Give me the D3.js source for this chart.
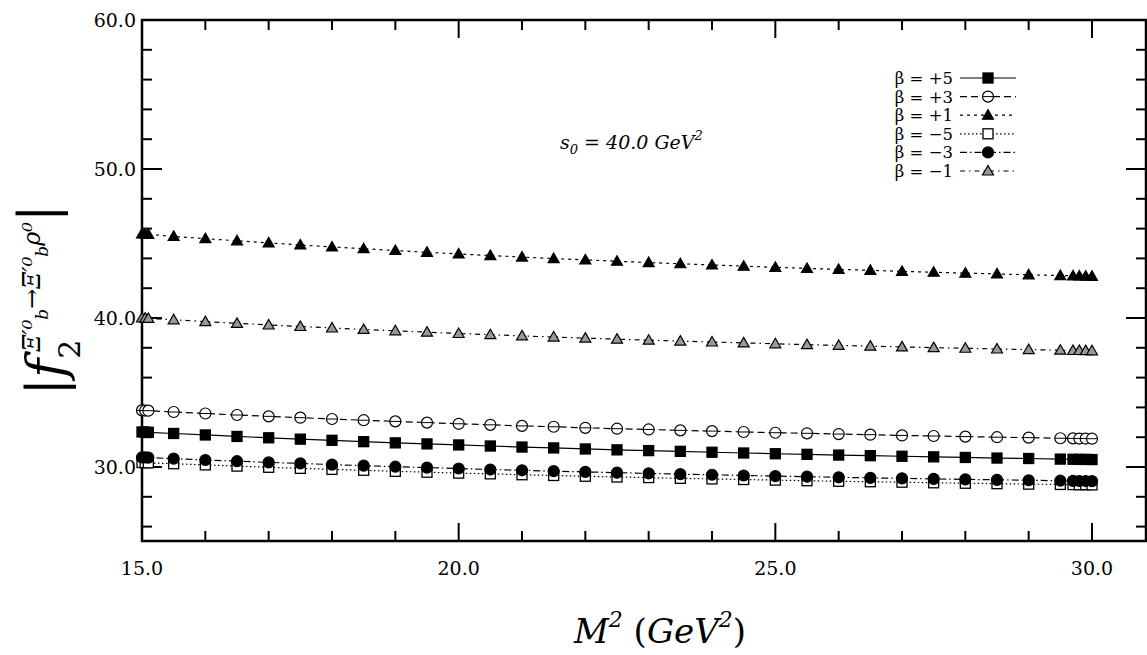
<!DOCTYPE html>
<html><head><meta charset="utf-8">
<script src="https://cdn.jsdelivr.net/npm/d3@7"></script>
<style>body{margin:0;background:#fff}</style>
</head><body><svg id="c" width="1147" height="655" font-family="'DejaVu Serif', 'Liberation Serif', serif"></svg>
<script>
const xs=[15,15.05,15.1,15.5,16,16.5,17,17.5,18,18.5,19,19.5,20,20.5,21,21.5,22,22.5,23,23.5,24,24.5,25,25.5,26,26.5,27,27.5,28,28.5,29,29.5,29.7,29.8,29.9,30];
const bP1=[45.64,45.62,45.61,45.48,45.33,45.18,45.04,44.90,44.77,44.65,44.53,44.41,44.30,44.19,44.09,43.99,43.90,43.81,43.72,43.64,43.56,43.48,43.40,43.33,43.26,43.20,43.13,43.07,43.01,42.96,42.90,42.85,42.83,42.82,42.81,42.80];
const bM1=[40.00,39.99,39.97,39.88,39.76,39.64,39.53,39.43,39.33,39.23,39.14,39.05,38.96,38.88,38.80,38.72,38.65,38.58,38.51,38.45,38.39,38.33,38.27,38.21,38.16,38.11,38.06,38.01,37.97,37.92,37.88,37.84,37.82,37.82,37.81,37.80];
const bP3=[33.80,33.79,33.78,33.69,33.59,33.49,33.40,33.31,33.22,33.14,33.06,32.98,32.90,32.83,32.76,32.70,32.63,32.57,32.52,32.46,32.41,32.35,32.30,32.26,32.21,32.17,32.12,32.08,32.04,32.00,31.97,31.93,31.92,31.91,31.91,31.90];
const bP5=[32.35,32.34,32.33,32.25,32.15,32.05,31.96,31.87,31.79,31.70,31.62,31.55,31.48,31.41,31.34,31.28,31.21,31.15,31.10,31.05,30.99,30.94,30.89,30.85,30.80,30.76,30.72,30.68,30.64,30.60,30.57,30.53,30.52,30.51,30.51,30.50];
const bM3=[30.65,30.64,30.63,30.56,30.47,30.39,30.31,30.24,30.16,30.09,30.02,29.96,29.90,29.83,29.78,29.72,29.67,29.62,29.57,29.52,29.48,29.43,29.39,29.35,29.31,29.27,29.24,29.20,29.17,29.14,29.11,29.08,29.07,29.06,29.06,29.05];
const bM5=[30.30,30.29,30.28,30.22,30.14,30.06,29.98,29.91,29.84,29.78,29.71,29.65,29.59,29.54,29.48,29.43,29.38,29.33,29.29,29.24,29.20,29.16,29.12,29.08,29.04,29.01,28.98,28.94,28.91,28.88,28.85,28.83,28.82,28.81,28.81,28.80];
const xTicks=[15,20,25,30], yTicks=[30,40,50,60];
const legendLabels=["β = +5","β = +3","β = +1","β = −5","β = −3","β = −1"];

const series=[
 {v:bP5,dash:null,m:"sq",fill:"#000"},
 {v:bP3,dash:"7,4",m:"ci",fill:"#fff"},
 {v:bP1,dash:"3,4",m:"tr",fill:"#000"},
 {v:bM5,dash:"1.5,2.5",m:"sq",fill:"#fff"},
 {v:bM3,dash:"7,3,1.5,3",m:"ci",fill:"#000"},
 {v:bM1,dash:"5,4,1.5,4",m:"tr",fill:"#999"}];
const svg=d3.select("#c");
const L=142,R=1146,T=20,B=541;
const x=d3.scaleLinear().domain([15,30]).range([L,1092]);
const y=d3.scaleLinear().domain([25,60]).range([B+0.5,20]);
const g=svg.append("g");
const tk=(x1,y1,x2,y2)=>g.append("line").attr("x1",x1).attr("y1",y1).attr("x2",x2).attr("y2",y2).attr("stroke","#000").attr("stroke-width",2);
for(let v=15;v<=30.9;v+=1){const maj=(v%5===0);const len=maj?18:10;const px=x(v);tk(px,B,px,B-len);tk(px,T,px,T+len);}
for(let v=26;v<=60;v+=2){const maj=(v%10===0);const len=maj?20:10;const py=y(v);tk(L,py,L+len,py);tk(R,py,R-len,py);}
g.append("rect").attr("x",L).attr("y",T).attr("width",R-L).attr("height",B-T).attr("fill","none").attr("stroke","#000").attr("stroke-width",2.5);
xTicks.forEach(v=>g.append("text").attr("x",x(v)).attr("y",B+34).attr("text-anchor","middle").attr("font-size",19).text(v.toFixed(1)));
yTicks.forEach(v=>g.append("text").attr("x",L-6).attr("y",y(v)+7).attr("text-anchor","end").attr("font-size",19).text(v.toFixed(1)));
function marker(sel,m,cx,cy,fill){
 const s=sel.append("g").attr("transform",`translate(${cx},${cy})`);
 if(m==="sq") s.append("rect").attr("x",-5).attr("y",-5).attr("width",10).attr("height",10).attr("fill",fill).attr("stroke","#000").attr("stroke-width",1.3);
 else if(m==="ci"){s.append("circle").attr("r",5.5).attr("fill",fill).attr("stroke","#000").attr("stroke-width",1.2); if(fill==="#fff") s.append("line").attr("x1",-5.5).attr("x2",5.5).attr("stroke","#000").attr("stroke-width",1);}
 else s.append("path").attr("d","M0,-5.5L5.5,4L-5.5,4Z").attr("fill",fill).attr("stroke","#000").attr("stroke-width",1.2);
}
const line=d3.line().x((d,i)=>x(xs[i])).y(d=>y(d));
series.forEach(s=>{
 g.append("path").datum(s.v).attr("d",line).attr("fill","none").attr("stroke","#000").attr("stroke-width",1.2).attr("stroke-dasharray",s.dash);
 s.v.forEach((v,i)=>marker(g,s.m,x(xs[i]),y(v),s.fill));
});
series.forEach((s,i)=>{
 const ly=78+i*18.6;
 g.append("text").attr("x",953).attr("y",ly+6).attr("text-anchor","end").attr("font-size",16.5).text(legendLabels[i]);
 g.append("line").attr("x1",960).attr("x2",1016).attr("y1",ly).attr("y2",ly).attr("stroke","#000").attr("stroke-width",1.2).attr("stroke-dasharray",s.dash);
 marker(g,s.m,988,ly,s.fill);
});
const s0=g.append("text").attr("x",560).attr("y",149).attr("font-size",19).attr("font-style","italic");
s0.append("tspan").text("s");s0.append("tspan").attr("font-size",13).attr("dy",5).text("0");
s0.append("tspan").attr("dy",-5).text(" = 40.0 GeV");s0.append("tspan").attr("font-size",13).attr("dy",-9).text("2");
const xl=g.append("text").attr("x",660).attr("y",643).attr("text-anchor","middle").attr("font-size",34).attr("font-style","italic");
xl.append("tspan").text("M");xl.append("tspan").attr("font-size",22).attr("dy",-16).text("2");
xl.append("tspan").attr("dy",16).attr("font-style","normal").text(" (");xl.append("tspan").text("GeV");
xl.append("tspan").attr("font-size",22).attr("dy",-16).text("2");xl.append("tspan").attr("dy",16).attr("font-style","normal").text(")");
const yl=g.append("text").attr("transform","translate(64,300) rotate(-90)").attr("text-anchor","middle").attr("font-size",52).attr("font-style","italic");
yl.append("tspan").attr("font-style","normal").text("|");
yl.append("tspan").text("f");
yl.append("tspan").attr("font-size",30).attr("dy",16).attr("font-style","normal").text("2");
yl.append("tspan").attr("font-size",24).attr("dy",-40).attr("dx",-12).text("Ξ′⁰");
yl.append("tspan").attr("font-size",17).attr("dy",8).text("b");
yl.append("tspan").attr("font-size",24).attr("dy",-8).attr("font-style","normal").text("→");
yl.append("tspan").attr("font-size",24).text("Ξ′⁰");
yl.append("tspan").attr("font-size",17).attr("dy",8).text("b");
yl.append("tspan").attr("font-size",24).attr("dy",-8).text("ρ⁰");
yl.append("tspan").attr("font-style","normal").attr("dy",16).text("|");
</script></body></html>
